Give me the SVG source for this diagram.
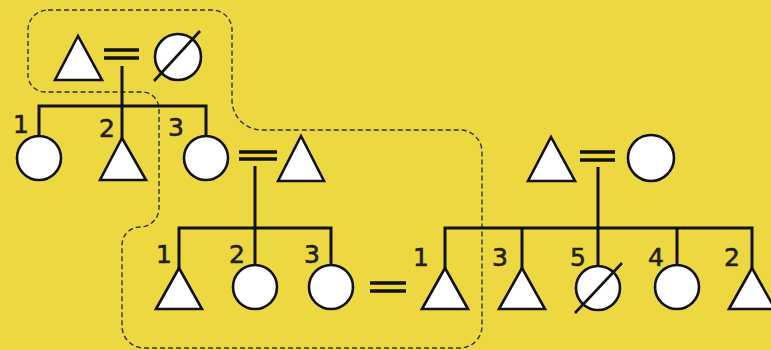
<svg xmlns="http://www.w3.org/2000/svg" width="771" height="350" viewBox="0 0 771 350">
<style>
.sh{fill:#ffffff;stroke:#111;stroke-width:2.6;stroke-linejoin:miter}
.ln{stroke:#111;stroke-width:3;fill:none}
.eq{stroke:#111;stroke-width:3.5;fill:none}
.sl{stroke:#111;stroke-width:2.6;fill:none}
.lb{font-family:"DejaVu Sans",Verdana,sans-serif;font-size:25px;fill:#22200f;stroke:#22200f;stroke-width:0.6;text-anchor:middle}
.dash{fill:none;stroke:#333;stroke-width:1.4;stroke-dasharray:5 3}
</style>
<rect width="771" height="350" fill="#edd841"/>
<path class="dash" d="M 48,10 H 212 A 20 20 0 0 1 232,30 V 100 A 30 30 0 0 0 262,130 H 460 A 22 22 0 0 1 482,152 V 326 A 22 22 0 0 1 460,348 H 144 A 22 22 0 0 1 122,326 V 245 A 18 18 0 0 1 140,227 A 19 19 0 0 0 159,208 V 109 A 17 17 0 0 0 142,92 H 45 A 17 17 0 0 1 28,75 V 30 A 20 20 0 0 1 48,10 Z"/>
<g id="connectors">
<line class="eq" x1="104" y1="50" x2="139" y2="50"/>
<line class="eq" x1="104" y1="58" x2="139" y2="58"/>
<line class="ln" x1="122" y1="66" x2="122" y2="139"/>
<polyline class="ln" points="39,137 39,106 206,106 206,137"/>
<line class="eq" x1="239" y1="152" x2="277" y2="152"/>
<line class="eq" x1="239" y1="159" x2="277" y2="159"/>
<line class="ln" x1="255" y1="166" x2="255" y2="265"/>
<polyline class="ln" points="179,269 179,228 331,228 331,265"/>
<line class="eq" x1="370" y1="283" x2="406" y2="283"/>
<line class="eq" x1="370" y1="291" x2="406" y2="291"/>
<line class="eq" x1="580" y1="152" x2="615" y2="152"/>
<line class="eq" x1="580" y1="160" x2="615" y2="160"/>
<line class="ln" x1="598" y1="167" x2="598" y2="266"/>
<polyline class="ln" points="445,269 445,228 752,228 752,269"/>
<line class="ln" x1="522" y1="228" x2="522" y2="269"/>
<line class="ln" x1="677" y1="228" x2="677" y2="265"/>
</g>
<g id="g1-father"><polygon class="sh" points="55,80 78,36 102,80"/></g>
<g id="g1-mother"><circle class="sh" cx="178" cy="57" r="23"/><line class="sl" x1="154" y1="81" x2="200" y2="31"/></g>
<g id="g2-child1"><circle class="sh" cx="39" cy="158" r="22"/><text class="lb" x="21" y="133">1</text></g>
<g id="g2-child2"><polygon class="sh" points="100,180 122,138 146,180"/><text class="lb" x="107" y="137">2</text></g>
<g id="g2-child3"><circle class="sh" cx="206" cy="158" r="22"/><text class="lb" x="176" y="136">3</text></g>
<g id="g2-spouse"><polygon class="sh" points="278,181 301,136 324,181"/></g>
<g id="g3-child1"><polygon class="sh" points="156,309 179,268 202,309"/><text class="lb" x="164" y="263">1</text></g>
<g id="g3-child2"><circle class="sh" cx="255" cy="287" r="22"/><text class="lb" x="237" y="263">2</text></g>
<g id="g3-child3"><circle class="sh" cx="331" cy="287" r="22"/><text class="lb" x="312" y="263">3</text></g>
<g id="r-father"><polygon class="sh" points="528,181 551,137 575,181"/></g>
<g id="r-mother"><circle class="sh" cx="651" cy="158" r="23"/></g>
<g id="r-child1"><polygon class="sh" points="422,309 445,268 468,309"/><text class="lb" x="421" y="266">1</text></g>
<g id="r-child3"><polygon class="sh" points="499,309 522,268 545,309"/><text class="lb" x="500" y="266">3</text></g>
<g id="r-child5"><circle class="sh" cx="598" cy="288" r="22"/><line class="sl" x1="575" y1="313" x2="622" y2="263"/><text class="lb" x="578" y="266">5</text></g>
<g id="r-child4"><circle class="sh" cx="677" cy="287" r="22"/><text class="lb" x="656" y="266">4</text></g>
<g id="r-child2"><polygon class="sh" points="729,309 752,268 775,309"/><text class="lb" x="732" y="266">2</text></g>
</svg>
